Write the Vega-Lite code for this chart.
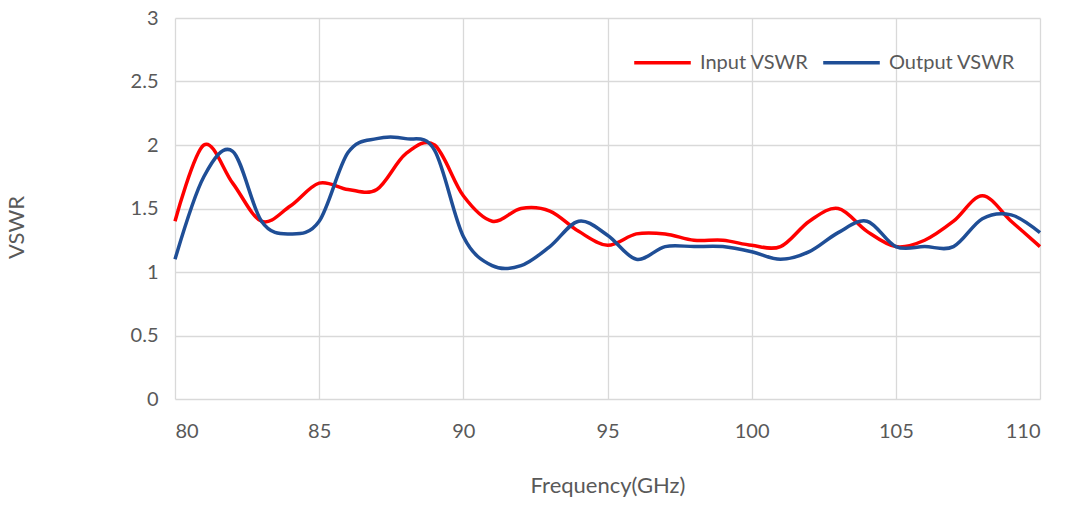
{
  "$schema": "https://vega.github.io/schema/vega-lite/v6.json",
  "width": 865,
  "height": 381,
  "autosize": {"type": "none"},
  "padding": {"left": 175, "top": 18, "right": 29, "bottom": 106},
  "background": "white",
  "config": {
    "font": "Lato",
    "view": {"stroke": null},
    "axis": {"labelFont": "Lato", "titleFont": "Lato", "titleFontWeight": "normal", "labelColor": "#595959", "titleColor": "#595959", "gridColor": "#d9d9d9", "gridWidth": 1.3, "domain": false, "ticks": false}
  },
  "data": {"values": [
    {"f":80,"s":"Input VSWR","v":1.4},{"f":81,"s":"Input VSWR","v":2.0},{"f":82,"s":"Input VSWR","v":1.7},{"f":83,"s":"Input VSWR","v":1.4},{"f":84,"s":"Input VSWR","v":1.52},{"f":85,"s":"Input VSWR","v":1.7},{"f":86,"s":"Input VSWR","v":1.65},{"f":87,"s":"Input VSWR","v":1.65},{"f":88,"s":"Input VSWR","v":1.93},{"f":89,"s":"Input VSWR","v":2.0},{"f":90,"s":"Input VSWR","v":1.6},{"f":91,"s":"Input VSWR","v":1.4},{"f":92,"s":"Input VSWR","v":1.5},{"f":93,"s":"Input VSWR","v":1.48},{"f":94,"s":"Input VSWR","v":1.32},{"f":95,"s":"Input VSWR","v":1.21},{"f":96,"s":"Input VSWR","v":1.3},{"f":97,"s":"Input VSWR","v":1.3},{"f":98,"s":"Input VSWR","v":1.25},{"f":99,"s":"Input VSWR","v":1.25},{"f":100,"s":"Input VSWR","v":1.21},{"f":101,"s":"Input VSWR","v":1.2},{"f":102,"s":"Input VSWR","v":1.4},{"f":103,"s":"Input VSWR","v":1.5},{"f":104,"s":"Input VSWR","v":1.32},{"f":105,"s":"Input VSWR","v":1.2},{"f":106,"s":"Input VSWR","v":1.25},{"f":107,"s":"Input VSWR","v":1.4},{"f":108,"s":"Input VSWR","v":1.6},{"f":109,"s":"Input VSWR","v":1.4},{"f":110,"s":"Input VSWR","v":1.2},
    {"f":80,"s":"Output VSWR","v":1.1},{"f":81,"s":"Output VSWR","v":1.75},{"f":82,"s":"Output VSWR","v":1.95},{"f":83,"s":"Output VSWR","v":1.4},{"f":84,"s":"Output VSWR","v":1.3},{"f":85,"s":"Output VSWR","v":1.4},{"f":86,"s":"Output VSWR","v":1.94},{"f":87,"s":"Output VSWR","v":2.05},{"f":88,"s":"Output VSWR","v":2.05},{"f":89,"s":"Output VSWR","v":1.96},{"f":90,"s":"Output VSWR","v":1.28},{"f":91,"s":"Output VSWR","v":1.05},{"f":92,"s":"Output VSWR","v":1.05},{"f":93,"s":"Output VSWR","v":1.2},{"f":94,"s":"Output VSWR","v":1.4},{"f":95,"s":"Output VSWR","v":1.29},{"f":96,"s":"Output VSWR","v":1.1},{"f":97,"s":"Output VSWR","v":1.2},{"f":98,"s":"Output VSWR","v":1.2},{"f":99,"s":"Output VSWR","v":1.2},{"f":100,"s":"Output VSWR","v":1.16},{"f":101,"s":"Output VSWR","v":1.1},{"f":102,"s":"Output VSWR","v":1.16},{"f":103,"s":"Output VSWR","v":1.31},{"f":104,"s":"Output VSWR","v":1.4},{"f":105,"s":"Output VSWR","v":1.2},{"f":106,"s":"Output VSWR","v":1.2},{"f":107,"s":"Output VSWR","v":1.2},{"f":108,"s":"Output VSWR","v":1.42},{"f":109,"s":"Output VSWR","v":1.45},{"f":110,"s":"Output VSWR","v":1.31}
  ]},
  "mark": {"type": "line", "interpolate": "cardinal", "strokeWidth": 3.5},
  "encoding": {
    "x": {"field": "f", "type": "quantitative", "title": "Frequency(GHz)",
      "scale": {"domain": [80, 110], "nice": false, "zero": false},
      "axis": {"values": [80,85,90,95,100,105,110], "labelFontSize": 20, "labelPadding": 22, "titleFontSize": 22, "titlePadding": 34, "grid": true}},
    "y": {"field": "v", "type": "quantitative", "title": "VSWR",
      "scale": {"domain": [0, 3], "nice": false},
      "axis": {"values": [0,0.5,1,1.5,2,2.5,3], "format": "~g", "labelFontSize": 20, "labelPadding": 17, "titleFontSize": 22, "titleX": -147, "titleY": 209, "grid": true}},
    "color": {"field": "s", "type": "nominal",
      "scale": {"domain": ["Input VSWR", "Output VSWR"], "range": ["#ff0000", "#1f4e96"]},
      "legend": {"title": null, "orient": "none", "legendX": 457, "legendY": 14, "direction": "horizontal", "symbolType": "stroke", "symbolSize": 3200, "symbolStrokeWidth": 3.5, "labelFontSize": 20, "labelColor": "#595959", "labelOffset": 7, "columnPadding": 7}}
  }
}
